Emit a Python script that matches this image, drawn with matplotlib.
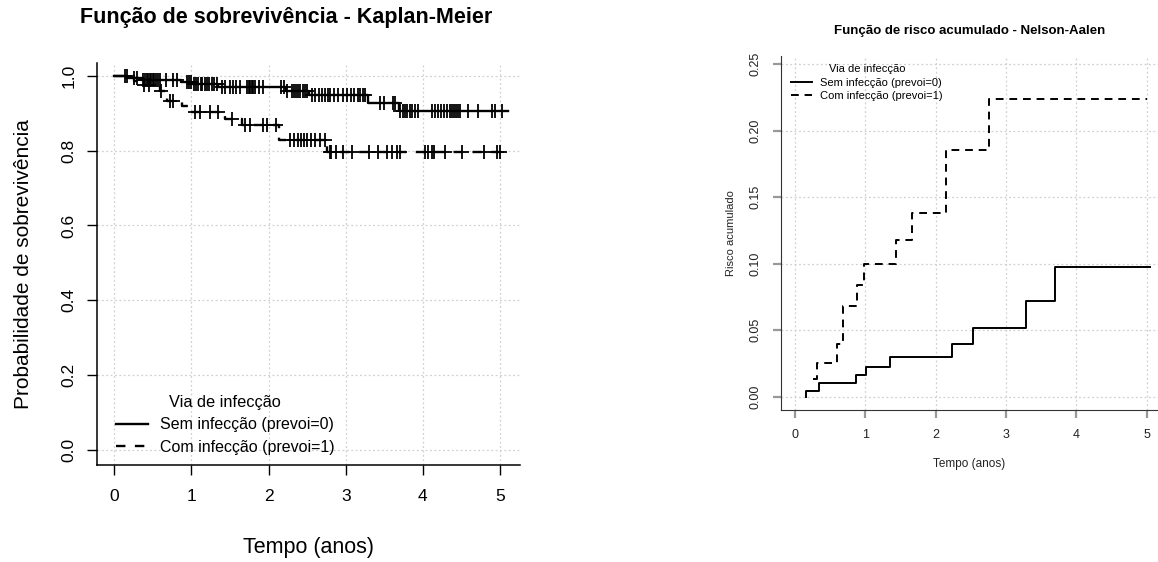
import numpy as np
import matplotlib
matplotlib.use("Agg")
import matplotlib.pyplot as plt

plt.rcParams['font.family'] = ['Liberation Sans', 'DejaVu Sans']

# Kaplan-Meier: event times and survival after each event
km0_t = [0.157, 0.34, 0.866, 1.01, 1.35, 2.23, 2.53, 3.29, 3.69]
km0_s = [0.9955, 0.990, 0.984, 0.978, 0.970, 0.961, 0.950, 0.929, 0.906]
km0_end = 5.10
km1_t = [0.26, 0.31, 0.59, 0.68, 0.88, 0.98, 1.43, 1.66, 2.14, 2.76]
km1_s = [0.987, 0.975, 0.961, 0.934, 0.919, 0.904, 0.886, 0.868, 0.828, 0.797]
km1_end = 5.04

# censored times (drawn as +)
cens0 = [0.14, 0.25, 0.30, 0.37, 0.40, 0.42, 0.44, 0.46, 0.48, 0.50, 0.52, 0.54,
         0.56, 0.59, 0.67, 0.76, 0.81, 0.94, 0.97, 1.00, 1.03, 1.06, 1.09, 1.12,
         1.14, 1.17, 1.20, 1.23, 1.26, 1.29, 1.33, 1.40, 1.44, 1.50, 1.54, 1.58,
         1.63, 1.72, 1.74, 1.76, 1.78, 1.80, 1.83, 1.87, 1.93, 2.16, 2.20, 2.24,
         2.30, 2.33, 2.36, 2.38, 2.41, 2.44, 2.47, 2.50, 2.56, 2.60, 2.65, 2.69,
         2.73, 2.77, 2.79, 2.85, 2.90, 2.97, 3.02, 3.07, 3.11, 3.16, 3.19, 3.22,
         3.25, 3.45, 3.49, 3.61, 3.64, 3.71, 3.74, 3.77, 3.80, 3.83, 3.86, 3.90,
         3.94, 4.12, 4.16, 4.20, 4.23, 4.27, 4.31, 4.35, 4.38, 4.41, 4.43, 4.46,
         4.48, 4.59, 4.72, 4.89, 4.94, 5.02]
cens1 = [0.16, 0.38, 0.45, 0.60, 0.72, 0.76, 1.05, 1.11, 1.24, 1.35, 1.52, 1.70,
         1.76, 1.93, 1.98, 2.10, 2.28, 2.33, 2.38, 2.42, 2.46, 2.50, 2.55, 2.60,
         2.66, 2.73, 2.79, 2.81, 2.88, 2.97, 3.08, 3.30, 3.42, 3.53, 3.60, 3.66,
         3.71, 4.03, 4.07, 4.12, 4.14, 4.29, 4.51, 4.79, 4.96, 5.00]

# Nelson-Aalen cumulative hazard
na0_t = [0.157, 0.157, 0.34, 0.866, 1.01, 1.35, 2.23, 2.53, 3.29, 3.69, 5.05]
na0_h = [0.0, 0.0045, 0.0103, 0.0165, 0.0225, 0.030, 0.0396, 0.0514, 0.0719, 0.0972, 0.0972]
na1_t = [0.26, 0.31, 0.59, 0.68, 0.88, 0.98, 1.43, 1.66, 2.14, 2.76, 5.0]
na1_h = [0.013, 0.0256, 0.0396, 0.0684, 0.084, 0.0997, 0.118, 0.138, 0.185, 0.2235, 0.2235]

labels = ["Sem infecção (prevoi=0)", "Com infecção (prevoi=1)"]
grid_kw = dict(color='#d0d0d0', linestyle=(0, (1.5, 2)), linewidth=0.9)


def km_path(times, surv, end):
    t = np.r_[0.0, times, end]
    s = np.r_[1.0, surv, surv[-1]]
    return t, s


def surv_at(times, surv, x):
    idx = np.searchsorted(times, x, side='right')
    s = np.r_[1.0, surv]
    return s[idx]


fig = plt.figure(figsize=(11.58, 5.62), dpi=100)

# ---- Kaplan-Meier panel ----
ax1 = fig.add_axes([0.0838, 0.1726, 0.3653, 0.7158])
ax1.set_xlim(-0.224, 5.26)
ax1.set_ylim(-0.0415, 1.036)
ax1.set_xticks(range(6))
ax1.set_yticks(np.arange(0, 1.01, 0.2))
ax1.set_yticklabels([f"{v:.1f}" for v in np.arange(0, 1.01, 0.2)])
for v in range(6):
    ax1.axvline(v, **grid_kw, zorder=0)
for v in np.arange(0, 1.01, 0.2):
    ax1.axhline(v, **grid_kw, zorder=0)

t, s = km_path(km0_t, km0_s, km0_end)
ax1.step(t, s, where='post', color='black', lw=1.7, label=labels[0])
ax1.plot(cens0, surv_at(km0_t, km0_s, cens0), '+', color='black', ms=10.5, mew=1.3)
t, s = km_path(km1_t, km1_s, km1_end)
ax1.step(t, s, where='post', color='black', lw=1.7, linestyle=(0, (4, 4)), label=labels[1])
ax1.plot(cens1, surv_at(km1_t, km1_s, cens1), '+', color='black', ms=10.5, mew=1.3)

for sp in ['top', 'right']:
    ax1.spines[sp].set_visible(False)
ax1.spines['left'].set_linewidth(1.1)
ax1.spines['bottom'].set_linewidth(1.1)
ax1.tick_params(length=7, width=1.0, labelsize=12.5, colors='black', pad=10)
ax1.tick_params(axis='y', labelrotation=90, pad=8)
for lab in ax1.get_yticklabels():
    lab.set_va('center')
fig.text(286 / 1158, 1 - 18 / 562, "Função de sobrevivência - Kaplan-Meier",
         fontsize=15.5, fontweight='bold', ha='center', va='center')
ax1.set_xlabel("Tempo (anos)", fontsize=15.5, labelpad=24)
ax1.set_ylabel("Probabilidade de sobrevivência", fontsize=15, labelpad=20)
ax1.legend(title="Via de infecção", loc='lower left', frameon=False,
           bbox_to_anchor=(0.01, -0.01), fontsize=11.5, title_fontsize=11.8,
           handlelength=2.0, handletextpad=0.8, labelspacing=0.45)

# ---- Nelson-Aalen panel ----
ax2 = fig.add_axes([0.6744, 0.2705, 0.3256, 0.6299])
ax2.set_xlim(-0.2, 5.16)
ax2.set_ylim(-0.01, 0.256)
ax2.set_xticks(range(6))
hticks = np.arange(0, 0.251, 0.05)
ax2.set_yticks(hticks)
ax2.set_yticklabels([f"{v:.2f}" for v in hticks])
for v in range(6):
    ax2.axvline(v, **grid_kw, zorder=0)
for v in hticks:
    ax2.axhline(v, **grid_kw, zorder=0)

ax2.step(na0_t, na0_h, where='post', color='black', lw=1.4, label=labels[0])
ax2.step(na1_t, na1_h, where='post', color='black', lw=1.4,
         linestyle=(0, (4, 3)), label=labels[1])

for sp in ['top', 'right']:
    ax2.spines[sp].set_visible(False)
ax2.spines['left'].set_color('#333333')
ax2.spines['bottom'].set_color('#333333')
ax2.tick_params(length=6, width=1.6, color='#999999', labelsize=9,
                labelcolor='#222222', pad=8)
ax2.tick_params(axis='y', labelrotation=90)
for lab in ax2.get_yticklabels():
    lab.set_va('center')
ax2.set_title("Função de risco acumulado - Nelson-Aalen", fontsize=9.5,
              fontweight='bold', pad=16)
ax2.set_xlabel("Tempo (anos)", fontsize=8.5, color='#222222', labelpad=12)
ax2.set_ylabel("Risco acumulado", fontsize=8, color='#222222', labelpad=10)
ax2.legend(title="Via de infecção", loc='upper left', frameon=False,
           bbox_to_anchor=(0.0, 1.005), fontsize=8, title_fontsize=8,
           handlelength=1.9, handletextpad=0.75, labelspacing=0.3)

fig.savefig("out.png", dpi=100)
